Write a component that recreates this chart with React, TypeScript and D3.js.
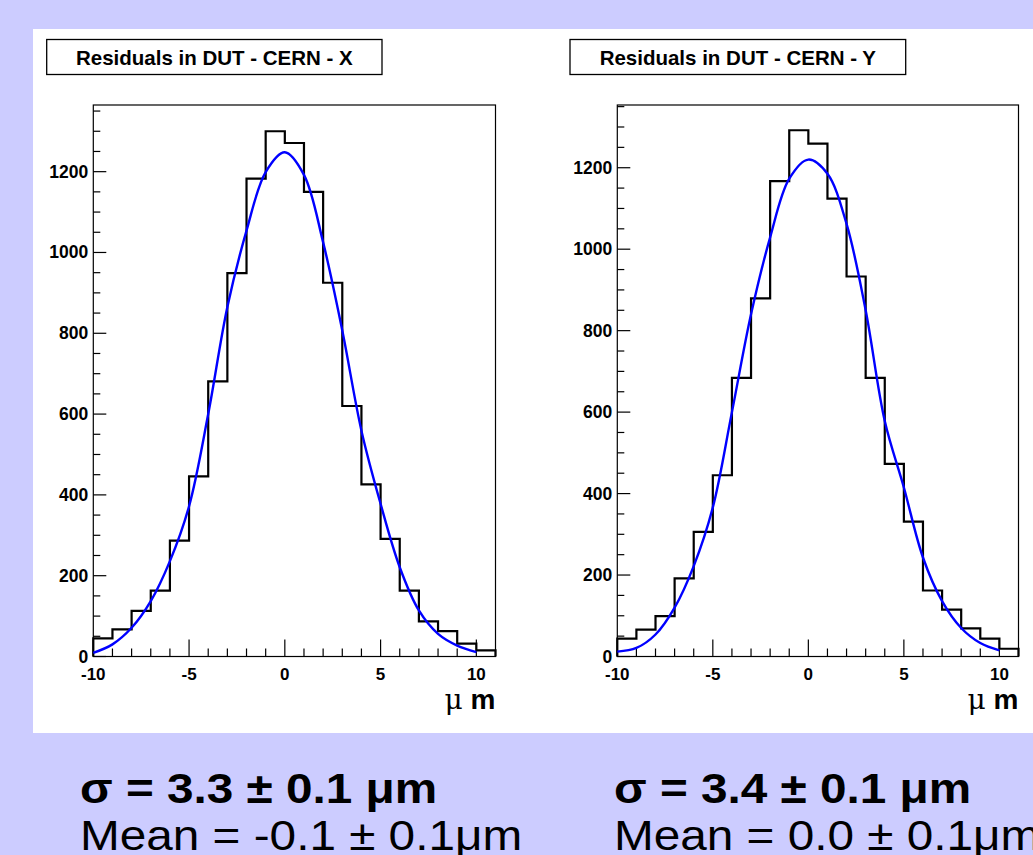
import React from 'react';
import * as d3 from 'd3';

// bin edges of both histograms (µm)
const binEdges = [-10, -9, -8, -7, -6, -5, -4, -3, -2, -1, 0, 1, 2, 3, 4, 5, 6, 7, 8, 9, 10, 11];

// entries per bin
const countsX = [45, 67, 113, 163, 287, 446, 681, 949, 1183, 1300, 1271, 1150, 925, 620, 426, 291, 163, 87, 63, 32, 15];
const countsY = [44, 66, 99, 192, 306, 445, 684, 879, 1167, 1292, 1259, 1124, 933, 684, 473, 331, 162, 115, 69, 44, 19];

// gaussian fit curves, read at integer positions
const fitPosX = [-10, -9, -8, -7, -6, -5, -4, -3, -2, -1, 0, 1, 2, 3, 4, 5, 6, 7, 8, 9, 10];
const fitValX = [9, 30, 71, 137, 236, 372, 600, 865, 1054, 1199, 1248, 1192, 1025, 807, 559, 378, 221, 114, 56, 27, 11];
const fitValY = [12, 21, 54, 120, 222, 366, 600, 840, 1029, 1173, 1220, 1185, 1062, 850, 578, 415, 243, 136, 70, 33, 15];

const xMajorTicks = [-10, -5, 0, 5, 10];
const yMajorTicks = [0, 200, 400, 600, 800, 1000, 1200];

const titles = ['Residuals in DUT - CERN - X', 'Residuals in DUT - CERN - Y'];
const sigmaLabels = ['σ = 3.3 ± 0.1 μm', 'σ = 3.4 ± 0.1 μm'];
const meanLabels = ['Mean = -0.1 ± 0.1μm', 'Mean = 0.0 ± 0.1μm'];

const SANS = '"Liberation Sans", Arial, Helvetica, sans-serif';

function HistPanel({ left, right, ymax, counts, fit, title, titleBox }) {
  const top = 105;
  const bottom = 656.5;
  const x = d3.scaleLinear().domain([-10, 11]).range([left, right]);
  const y = d3.scaleLinear().domain([0, ymax]).range([bottom, top]);

  // step outline
  let d = `M${x(binEdges[0])},${y(0)}`;
  counts.forEach((c, i) => {
    d += `V${y(c)}H${x(binEdges[i + 1])}`;
  });
  d += `V${y(0)}`;

  const fitLine = d3.line()
    .x(p => x(p[0]))
    .y(p => y(p[1]))
    .curve(d3.curveCatmullRom.alpha(0.5));
  const fitPath = fitLine(fitPosX.map((p, i) => [p, fit[i]]));

  const xMinor = d3.range(-10, 11, 1).filter(v => !xMajorTicks.includes(v));
  const yMinor = d3.range(0, ymax, 50).filter(v => !yMajorTicks.includes(v));

  return (
    <g>
      <rect x={titleBox[0]} y={39.5} width={titleBox[1] - titleBox[0]} height={35} fill="#fff" stroke="#000" strokeWidth={1.3} />
      <text x={(titleBox[0] + titleBox[1]) / 2} y={64.5} textAnchor="middle" fontFamily={SANS} fontWeight="bold" fontSize={20.5}>{title}</text>

      <rect x={left} y={top} width={right - left} height={bottom - top} fill="#fff" stroke="#000" strokeWidth={1.2} />

      {/* y axis */}
      {yMajorTicks.map(v => (
        <g key={'ym' + v}>
          <line x1={left} x2={left + 13} y1={y(v)} y2={y(v)} stroke="#000" strokeWidth={1.2} />
          <text x={left - 5} y={y(v) + 6} textAnchor="end" fontFamily={SANS} fontWeight="bold" fontSize={17.5}>{v}</text>
        </g>
      ))}
      {yMinor.map(v => (
        <line key={'yn' + v} x1={left} x2={left + 7} y1={y(v)} y2={y(v)} stroke="#000" strokeWidth={1.2} />
      ))}

      {/* x axis */}
      {xMajorTicks.map(v => (
        <g key={'xm' + v}>
          <line x1={x(v)} x2={x(v)} y1={bottom} y2={bottom - 17} stroke="#000" strokeWidth={1.2} />
          <text x={x(v)} y={680} textAnchor="middle" fontFamily={SANS} fontWeight="bold" fontSize={17}>{v}</text>
        </g>
      ))}
      {xMinor.map(v => (
        <line key={'xn' + v} x1={x(v)} x2={x(v)} y1={bottom} y2={bottom - 8} stroke="#000" strokeWidth={1.2} />
      ))}

      <path d={d} fill="none" stroke="#000" strokeWidth={2.2} />
      <path d={fitPath} fill="none" stroke="#0000ff" strokeWidth={2.4} />

      <text x={right} y={709} textAnchor="end" fontSize={28}>
        <tspan fontFamily='"DejaVu Serif", "Liberation Serif", serif'>μ</tspan>
        <tspan fontFamily={SANS} fontWeight="bold"> m</tspan>
      </text>
    </g>
  );
}

export default function App() {
  return (
    <svg width={1033} height={855} style={{ position: 'absolute', left: 0, top: 0, display: 'block' }}>
      <rect x={0} y={0} width={1033} height={855} fill="#ccccff" />
      <rect x={33} y={29} width={1000} height={704} fill="#fff" />

      <HistPanel left={93.3} right={495.5} ymax={1365} counts={countsX} fit={fitValX} title={titles[0]} titleBox={[46.7, 382]} />
      <HistPanel left={617.3} right={1018.5} ymax={1354} counts={countsY} fit={fitValY} title={titles[1]} titleBox={[570, 905.7]} />

      {[80, 614].map((tx, i) => (
        <g key={'lab' + i}>
          <g transform={`translate(${tx},803) scale(1.11,1)`}>
            <text x={0} y={0} fontFamily={SANS} fontWeight="bold" fontSize={43}>{sigmaLabels[i]}</text>
          </g>
          <g transform={`translate(${tx},850) scale(1.11,1)`}>
            <text x={0} y={0} fontFamily={SANS} fontSize={43}>{meanLabels[i]}</text>
          </g>
        </g>
      ))}
    </svg>
  );
}
